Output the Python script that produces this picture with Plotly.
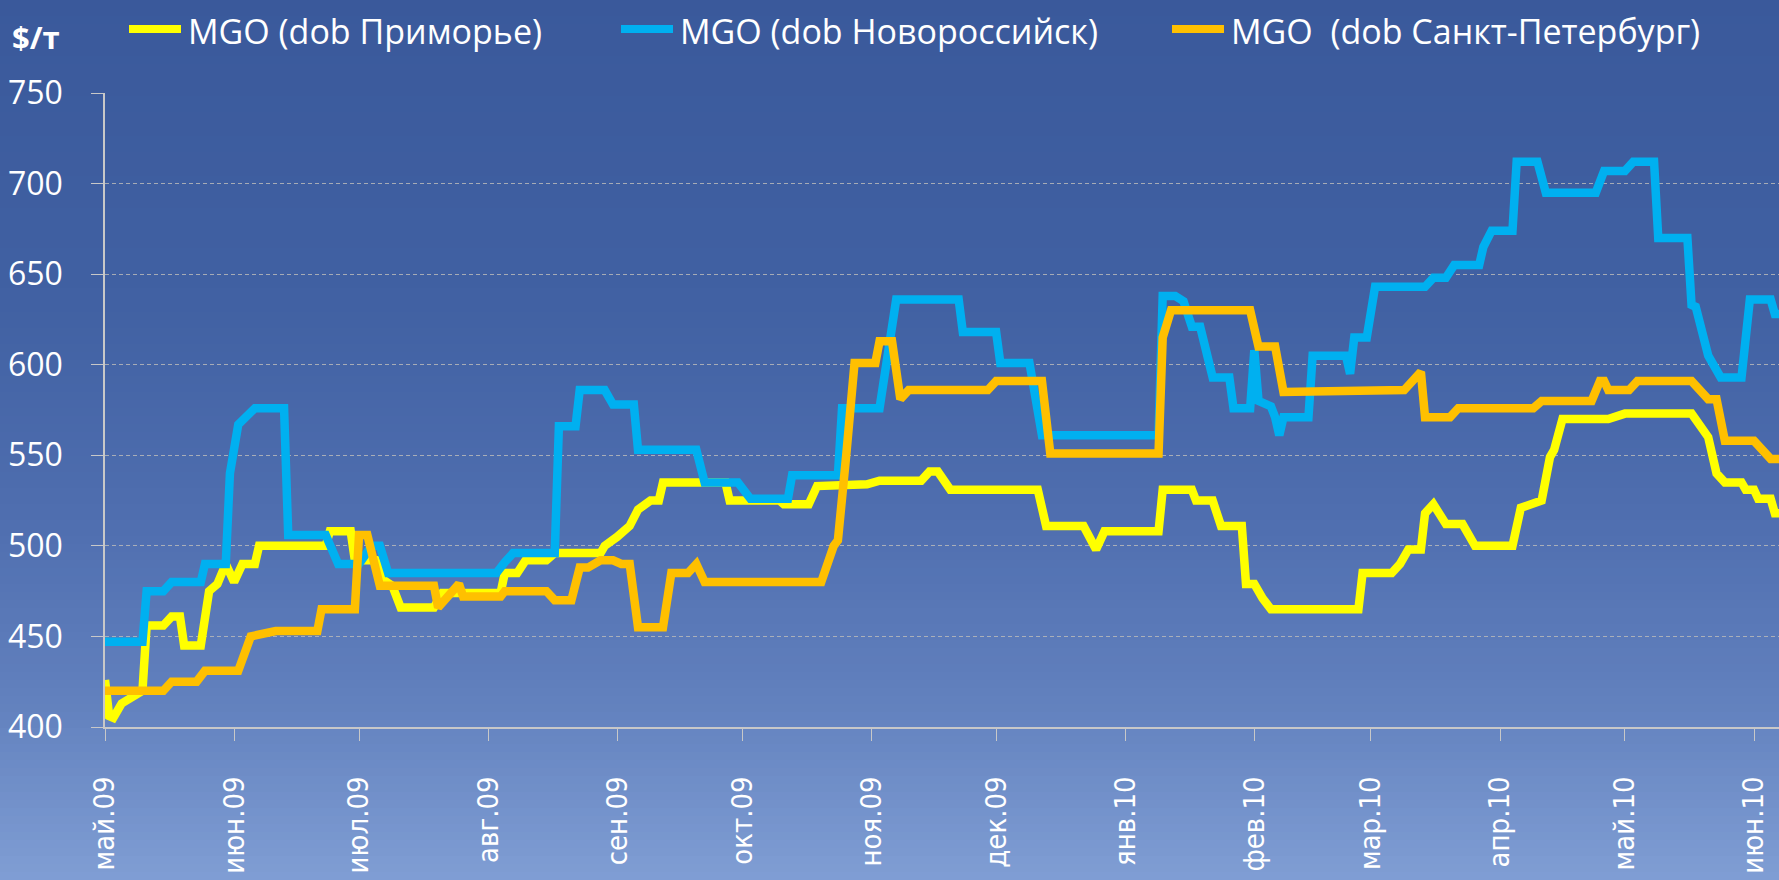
import plotly.graph_objects as go

# values ($/т), dates at break points of the lines
prim_name = "MGO (dob Приморье)"
prim_dates = ["2009-05-01", "2009-05-02", "2009-05-03", "2009-05-05", "2009-05-10", "2009-05-11",
              "2009-05-15", "2009-05-17", "2009-05-19", "2009-05-20", "2009-05-24", "2009-05-26",
              "2009-05-28", "2009-05-30", "2009-06-01", "2009-06-03", "2009-06-06", "2009-06-07",
              "2009-06-23", "2009-06-24", "2009-06-29", "2009-06-30", "2009-07-05", "2009-07-07",
              "2009-07-09", "2009-07-11", "2009-07-19", "2009-07-21", "2009-08-04", "2009-08-05",
              "2009-08-08", "2009-08-10", "2009-08-15", "2009-08-17", "2009-08-28", "2009-08-29",
              "2009-09-01", "2009-09-04", "2009-09-06", "2009-09-09", "2009-09-11", "2009-09-12",
              "2009-09-27", "2009-09-28", "2009-10-10", "2009-10-11", "2009-10-17", "2009-10-19",
              "2009-10-31", "2009-11-03", "2009-11-13", "2009-11-15", "2009-11-17", "2009-11-20",
              "2009-12-11", "2009-12-13", "2009-12-22", "2009-12-25", "2009-12-27", "2010-01-09",
              "2010-01-10", "2010-01-17", "2010-01-18", "2010-01-22", "2010-01-24", "2010-01-29",
              "2010-01-30", "2010-02-01", "2010-02-03", "2010-02-05", "2010-02-26", "2010-02-27",
              "2010-03-06", "2010-03-08", "2010-03-10", "2010-03-13", "2010-03-14", "2010-03-16",
              "2010-03-19", "2010-03-23", "2010-03-26", "2010-04-04", "2010-04-06", "2010-04-10",
              "2010-04-11", "2010-04-13", "2010-04-14", "2010-04-16", "2010-04-27", "2010-05-01",
              "2010-05-17", "2010-05-21", "2010-05-23", "2010-05-25", "2010-05-29", "2010-05-30",
              "2010-06-01", "2010-06-02", "2010-06-05", "2010-06-06", "2010-06-07"]
prim_vals = [426, 406, 405, 413, 420, 456, 456, 461, 461, 445, 445, 475,
             479, 490, 480, 490, 490, 500, 500, 508, 508, 492, 492, 481,
             478, 466, 466, 474, 474, 485, 485, 492, 492, 496, 496, 500,
             505, 511, 520, 525, 525, 535, 535, 525, 525, 523, 523, 533,
             534, 536, 536, 541, 541, 531, 531, 511, 511, 498, 508, 508,
             531, 531, 525, 525, 511, 511, 479, 479, 471, 465, 465, 485,
             485, 490, 498, 498, 518, 523, 512, 512, 500, 500, 521, 525,
             525, 549, 553, 570, 570, 573, 573, 560, 540, 535, 535, 531,
             531, 526, 526, 518, 518]

novo_name = "MGO (dob Новороссийск)"
novo_dates = ["2009-05-01", "2009-05-10", "2009-05-11", "2009-05-15", "2009-05-17", "2009-05-24",
              "2009-05-25", "2009-05-30", "2009-05-31", "2009-06-02", "2009-06-06", "2009-06-13",
              "2009-06-14", "2009-06-23", "2009-06-26", "2009-07-01", "2009-07-04", "2009-07-06",
              "2009-07-08", "2009-08-03", "2009-08-05", "2009-08-07", "2009-08-17", "2009-08-18",
              "2009-08-22", "2009-08-23", "2009-08-29", "2009-08-31", "2009-09-05", "2009-09-06",
              "2009-09-20", "2009-09-22", "2009-09-30", "2009-10-03", "2009-10-12", "2009-10-13",
              "2009-10-24", "2009-10-25", "2009-11-03", "2009-11-05", "2009-11-07", "2009-11-22",
              "2009-11-23", "2009-12-01", "2009-12-02", "2009-12-09", "2009-12-12", "2010-01-09",
              "2010-01-10", "2010-01-13", "2010-01-15", "2010-01-17", "2010-01-19", "2010-01-22",
              "2010-01-26", "2010-01-27", "2010-01-31", "2010-02-01", "2010-02-02", "2010-02-05",
              "2010-02-06", "2010-02-07", "2010-02-08", "2010-02-14", "2010-02-15", "2010-02-23",
              "2010-02-24", "2010-02-25", "2010-02-28", "2010-03-02", "2010-03-14", "2010-03-16",
              "2010-03-19", "2010-03-21", "2010-03-27", "2010-03-28", "2010-03-30", "2010-04-04",
              "2010-04-05", "2010-04-10", "2010-04-12", "2010-04-24", "2010-04-26", "2010-05-01",
              "2010-05-03", "2010-05-08", "2010-05-09", "2010-05-16", "2010-05-17", "2010-05-18",
              "2010-05-21", "2010-05-24", "2010-05-29", "2010-05-31", "2010-06-05", "2010-06-06",
              "2010-06-07"]
novo_vals = [447, 447, 475, 475, 480, 480, 490, 490, 540, 567, 576, 576,
             506, 506, 490, 490, 500, 500, 485, 485, 491, 496, 496, 566,
             566, 586, 586, 578, 578, 553, 553, 535, 535, 526, 526, 539,
             539, 576, 576, 606, 636, 636, 618, 618, 601, 601, 561, 561,
             638, 638, 635, 621, 621, 593, 593, 576, 576, 608, 580, 577,
             571, 561, 571, 571, 605, 605, 595, 615, 615, 643, 643, 648,
             648, 655, 655, 665, 674, 674, 712, 712, 695, 695, 707, 707,
             712, 712, 670, 670, 633, 632, 605, 593, 593, 636, 636, 628,
             628]

spb_name = "MGO\u00a0 (dob Санкт-Петербург)"
spb_dates = ["2009-05-01", "2009-05-15", "2009-05-17", "2009-05-23", "2009-05-25", "2009-06-02",
             "2009-06-05", "2009-06-08", "2009-06-11", "2009-06-21", "2009-06-22", "2009-06-30",
             "2009-07-01", "2009-07-03", "2009-07-05", "2009-07-06", "2009-07-19", "2009-07-20",
             "2009-07-25", "2009-07-26", "2009-08-04", "2009-08-05", "2009-08-15", "2009-08-17",
             "2009-08-21", "2009-08-23", "2009-08-25", "2009-08-28", "2009-08-31", "2009-09-02",
             "2009-09-04", "2009-09-06", "2009-09-12", "2009-09-14", "2009-09-18", "2009-09-20",
             "2009-09-22", "2009-10-20", "2009-10-23", "2009-10-24", "2009-10-26", "2009-10-28",
             "2009-11-02", "2009-11-03", "2009-11-06", "2009-11-08", "2009-11-10", "2009-11-29",
             "2009-12-01", "2009-12-12", "2009-12-14", "2010-01-09", "2010-01-10", "2010-01-12",
             "2010-01-31", "2010-02-02", "2010-02-06", "2010-02-07", "2010-02-08", "2010-03-09",
             "2010-03-13", "2010-03-14", "2010-03-20", "2010-03-22", "2010-04-09", "2010-04-11",
             "2010-04-23", "2010-04-25", "2010-04-26", "2010-04-27", "2010-05-02", "2010-05-04",
             "2010-05-17", "2010-05-21", "2010-05-23", "2010-05-25", "2010-06-01", "2010-06-05",
             "2010-06-07"]
spb_vals = [420, 420, 425, 425, 431, 431, 450, 452, 453, 453, 465, 465,
            506, 506, 485, 478, 478, 466, 479, 472, 472, 475, 475, 470,
            470, 488, 488, 492, 492, 490, 490, 455, 455, 485, 485, 490,
            480, 480, 500, 503, 550, 601, 601, 613, 613, 581, 586, 586,
            591, 591, 551, 551, 615, 630, 630, 610, 610, 600, 585, 586,
            596, 571, 571, 576, 576, 580, 580, 591, 591, 586, 586, 591,
            591, 581, 581, 558, 558, 548, 548]

month_ticks = ["2009-05-01", "2009-06-01", "2009-07-01", "2009-08-01", "2009-09-01", "2009-10-01",
               "2009-11-01", "2009-12-01", "2010-01-01", "2010-02-01", "2010-03-01", "2010-04-01",
               "2010-05-01", "2010-06-01"]
month_labels = ["май.09", "июн.09", "июл.09", "авг.09", "сен.09", "окт.09", "ноя.09", "дек.09",
                "янв.10", "фев.10", "мар.10", "апр.10", "май.10", "июн.10"]

W, H = 1779, 880
L, R, T, B = 105, 0, 93, 153
PW, PH = W - L - R, H - T - B

FONT = "Open Sans, Noto Sans, sans-serif"


def px_x(px):
    # figure pixel -> paper coordinate
    return (px - L) / PW


def px_y(py):
    return (H - B - py) / PH


def gradient_color(f):
    # vertical background gradient, dark blue at the top to light blue at the bottom
    stops = [(0.0, (58, 89, 155)), (0.35, (65, 97, 163)), (0.6, (80, 111, 176)),
             (0.8, (98, 129, 190)), (1.0, (128, 158, 212))]
    for (f0, c0), (f1, c1) in zip(stops[:-1], stops[1:]):
        if f0 <= f <= f1:
            t = (f - f0) / (f1 - f0)
            return "rgb(%d,%d,%d)" % tuple(round(a + (b - a) * t) for a, b in zip(c0, c1))
    return "rgb(%d,%d,%d)" % stops[-1][1]


fig = go.Figure()

# name, dates, values, colour, legend sample start (px)
series = [
    (prim_name, prim_dates, prim_vals, "#FFFF00", 126),
    (novo_name, novo_dates, novo_vals, "#00B0F0", 618),
    (spb_name, spb_dates, spb_vals, "#FFC000", 1169),
]
for name, xs, ys, color, _ in series:
    fig.add_trace(go.Scatter(x=xs, y=ys, name=name, mode="lines",
                             line=dict(color=color, width=8.5), showlegend=False))

# background bands
n_bands = 110
shapes = []
for i in range(n_bands):
    py0 = i * H / n_bands
    py1 = (i + 1) * H / n_bands + 0.6
    shapes.append(dict(type="rect", xref="paper", yref="paper", layer="below",
                       x0=px_x(-5), x1=px_x(W + 5), y0=px_y(py1), y1=px_y(py0),
                       fillcolor=gradient_color((i + 0.5) / n_bands), line_width=0))

# legend drawn across the top: thick sample line + series name
annotations = []
legend_y = 29
for name, _, _, color, sx in series:
    shapes.append(dict(type="line", xref="paper", yref="paper", layer="above",
                       x0=px_x(sx + 3), x1=px_x(sx + 55), y0=px_y(legend_y), y1=px_y(legend_y),
                       line=dict(color=color, width=8)))
    annotations.append(dict(text=name, xref="paper", yref="paper",
                            x=px_x(sx + 60), y=px_y(legend_y + 2),
                            xanchor="left", yanchor="middle", showarrow=False,
                            font=dict(family=FONT, size=34, color="white")))

annotations.append(dict(text="<b>$/т</b>", xref="paper", yref="paper",
                        x=px_x(10), y=px_y(37), xanchor="left", yanchor="middle",
                        showarrow=False, font=dict(family=FONT, size=31, color="white")))

axis_grey = "#C8C8C8"
fig.update_layout(
    width=W, height=H,
    margin=dict(l=L, r=R, t=T, b=B, autoexpand=False),
    paper_bgcolor="rgb(80,111,176)",
    plot_bgcolor="rgba(0,0,0,0)",
    shapes=shapes,
    annotations=annotations,
    showlegend=False,
    xaxis=dict(type="date", range=["2009-05-01", "2010-06-07"],
               tickmode="array", tickvals=month_ticks, ticktext=month_labels,
               tickangle=-90, ticks="outside", ticklen=12, tickcolor=axis_grey,
               showline=True, linecolor=axis_grey, linewidth=1.5,
               showgrid=False, zeroline=False, ticklabelstandoff=24,
               tickfont=dict(family="DejaVu Sans Condensed, DejaVu Sans", size=29, color="white")),
    yaxis=dict(range=[400, 750], tick0=400, dtick=50,
               ticks="outside", ticklen=12, tickcolor=axis_grey,
               showline=True, linecolor=axis_grey, linewidth=1.5,
               showgrid=True, gridcolor="rgba(185,185,185,0.85)", gridwidth=1,
               griddash="4px,3px", zeroline=False, ticklabelstandoff=22,
               tickfont=dict(family=FONT, size=32, color="white")),
)

fig.write_html("out.html", config={"displayModeBar": False},
               post_script="document.body.style.margin='0';document.body.style.overflow='hidden';")
